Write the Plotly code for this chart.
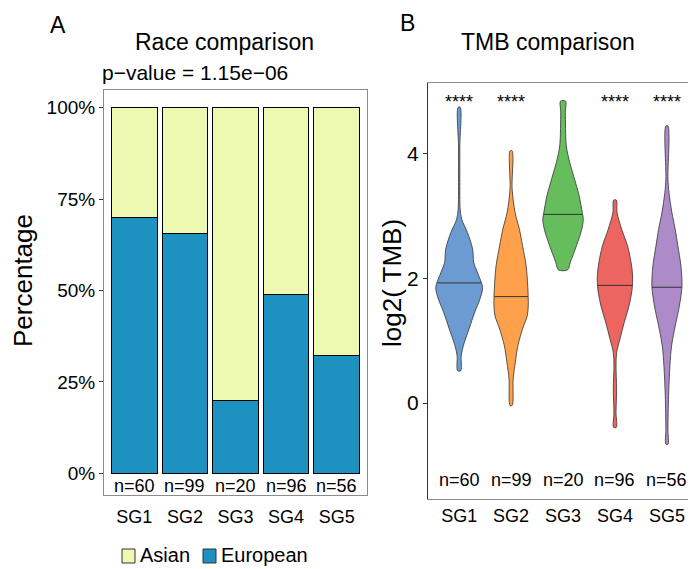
import numpy as np
import plotly.graph_objects as go

FONT = "Liberation Sans, Arial, sans-serif"

# ---------------- data ----------------
groups = ["SG1", "SG2", "SG3", "SG4", "SG5"]
group_n = [60, 99, 20, 96, 56]
european_pct = [70.0, 65.66, 20.0, 48.96, 32.14]
asian_pct = [30.0, 34.34, 80.0, 51.04, 67.86]
pct_ticks = [0, 25, 50, 75, 100]
pct_ticklabels = ["0%", "25%", "50%", "75%", "100%"]
race_pvalue = "p\u2212value = 1.15e\u221206"
legend_labels = ["Asian", "European"]

tmb_ticks = [0, 2, 4]
tmb_signif = ["****", "****", "", "****", "****"]
tmb_median = [1.93, 1.71, 3.03, 1.89, 1.86]

# violin density profiles: log2(TMB) level and half-width (category units)
sg1_tmb = [4.75, 4.13, 3.60, 3.11, 2.95, 2.74, 2.47, 2.26, 2.10, 1.86, 1.67, 1.46, 1.19, 0.92, 0.76, 0.52]
sg1_hw = [0.02, 0.013, 0.013, 0.02, 0.05, 0.16, 0.26, 0.28, 0.35, 0.45, 0.40, 0.30, 0.19, 0.08, 0.04, 0.03]
sg2_tmb = [4.05, 3.44, 3.06, 2.79, 2.53, 2.20, 1.88, 1.56, 1.40, 1.19, 0.92, 0.65, 0.385, -0.04]
sg2_hw = [0.02, 0.02, 0.077, 0.16, 0.22, 0.29, 0.32, 0.33, 0.31, 0.22, 0.13, 0.08, 0.04, 0.02]
sg3_tmb = [4.85, 4.67, 4.13, 3.86, 3.60, 3.33, 3.06, 2.95, 2.79, 2.53, 2.26, 2.14]
sg3_hw = [0.048, 0.045, 0.064, 0.13, 0.22, 0.31, 0.37, 0.39, 0.36, 0.26, 0.14, 0.09]
sg4_tmb = [3.26, 3.06, 2.79, 2.53, 2.26, 2.04, 1.83, 1.56, 1.30, 1.03, 0.81, 0.60, 0.22, -0.15, -0.39]
sg4_hw = [0.026, 0.04, 0.13, 0.24, 0.31, 0.34, 0.33, 0.27, 0.18, 0.096, 0.032, 0.02, 0.032, 0.02, 0.026]
sg5_tmb = [4.45, 3.60, 3.38, 3.06, 2.79, 2.53, 2.20, 1.88, 1.56, 1.24, 0.92, 0.60, 0.12, -0.42, -0.66]
sg5_hw = [0.02, 0.02, 0.04, 0.096, 0.16, 0.21, 0.27, 0.29, 0.24, 0.16, 0.09, 0.058, 0.032, 0.02, 0.02]

violin_tmb = [sg1_tmb, sg2_tmb, sg3_tmb, sg4_tmb, sg5_tmb]
violin_hw = [sg1_hw, sg2_hw, sg3_hw, sg4_hw, sg5_hw]

# ---------------- styles ----------------
col_asian = "#EDF8B1"
col_euro = "#1D91C0"
violin_colors = ["#6B9BD0", "#FFA04A", "#66BD5C", "#EC6561", "#AD8AC8"]
box_grey = "#8C8C8C"
dark = "#333333"

# page body has an 8px margin; figure is sized to fill the rest of the window
OFF = 8
W, H = 696 - OFF, 569 - OFF


def px(x):
    return (x - OFF) / W


def py(y):
    return 1 - (y - OFF) / H


fig = go.Figure()

# ---------------- panel A: stacked bars ----------------
fig.add_trace(go.Bar(x=groups, y=european_pct, name="European", marker=dict(color=col_euro, line=dict(color="black", width=1)),
                     width=0.9, xaxis="x", yaxis="y", showlegend=False))
fig.add_trace(go.Bar(x=groups, y=asian_pct, name="Asian", marker=dict(color=col_asian, line=dict(color="black", width=1)),
                     width=0.9, xaxis="x", yaxis="y", showlegend=False))

# ---------------- panel B: violins ----------------
for i, (lv, hw) in enumerate(zip(violin_tmb, violin_hw)):
    c = i + 1
    lv = np.array(lv, dtype=float)
    hw = np.array(hw, dtype=float)
    xs = np.concatenate([c + hw, (c - hw)[::-1], [c + hw[0]]])
    ys = np.concatenate([lv, lv[::-1], [lv[0]]])
    fig.add_trace(go.Scatter(x=xs, y=ys, mode="lines", fill="toself", fillcolor=violin_colors[i],
                             line=dict(color=dark, width=0.8, shape="spline", smoothing=0.9),
                             xaxis="x2", yaxis="y2", showlegend=False, hoverinfo="skip"))
    m = tmb_median[i]
    w = float(np.interp(m, lv[::-1], hw[::-1]))
    fig.add_trace(go.Scatter(x=[c - w, c + w], y=[m, m], mode="lines", line=dict(color=dark, width=1),
                             xaxis="x2", yaxis="y2", showlegend=False, hoverinfo="skip"))

ann = []
for i, g in enumerate(groups):
    ann.append(dict(x=g, y=-3.4, xref="x", yref="y", text=f"n={group_n[i]}", showarrow=False,
                    font=dict(size=18, color="black", family=FONT), yanchor="middle"))
    ann.append(dict(x=i + 1, y=-1.24, xref="x2", yref="y2", text=f"n={group_n[i]}", showarrow=False,
                    font=dict(size=18, color="black", family=FONT), yanchor="middle"))
    if tmb_signif[i]:
        ann.append(dict(x=i + 1, y=4.83, xref="x2", yref="y2", text=tmb_signif[i], showarrow=False,
                        font=dict(size=18, color="black", family=FONT), yanchor="middle"))

ann += [
    dict(x=px(58), y=py(25), xref="paper", yref="paper", text="A", showarrow=False,
         font=dict(size=23, color="black", family=FONT), xanchor="center", yanchor="middle"),
    dict(x=px(407), y=py(23), xref="paper", yref="paper", text="B", showarrow=False,
         font=dict(size=23, color="black", family=FONT), xanchor="center", yanchor="middle"),
    dict(x=px(224), y=py(42), xref="paper", yref="paper", text="Race comparison", showarrow=False,
         font=dict(size=23, color="black", family=FONT), xanchor="center", yanchor="middle"),
    dict(x=px(195), y=py(73), xref="paper", yref="paper", text=race_pvalue, showarrow=False,
         font=dict(size=21, color="black", family=FONT), xanchor="center", yanchor="middle"),
    dict(x=px(548), y=py(42), xref="paper", yref="paper", text="TMB comparison", showarrow=False,
         font=dict(size=23, color="black", family=FONT), xanchor="center", yanchor="middle"),
    # axis titles
    dict(x=px(23), y=py(281), xref="paper", yref="paper", text="Percentage", showarrow=False, textangle=-90,
         font=dict(size=26, color="black", family=FONT), xanchor="center", yanchor="middle"),
    dict(x=px(392), y=py(283), xref="paper", yref="paper", text="log2( TMB)", showarrow=False, textangle=-90,
         font=dict(size=26, color="black", family=FONT), xanchor="center", yanchor="middle"),
]

# legend (drawn as keys + labels below panel A)
shapes = []
legend_colors = [col_asian, col_euro]
legend_key_x = [122, 203]
for lab, colr, kx in zip(legend_labels, legend_colors, legend_key_x):
    shapes.append(dict(type="rect", xref="paper", yref="paper", x0=px(kx), x1=px(kx + 13),
                       y0=py(563), y1=py(549), fillcolor=colr, line=dict(color=dark, width=1)))
    ann.append(dict(x=px(kx + 16), y=py(555), xref="paper", yref="paper", text=lab, showarrow=False,
                    font=dict(size=20, color="black", family=FONT), xanchor="left", yanchor="middle"))

axis_font = dict(size=18, color="black", family=FONT)

fig.update_layout(
    width=W, height=H,
    margin=dict(l=0, r=0, t=0, b=0, autoexpand=False),
    paper_bgcolor="white", plot_bgcolor="white",
    font=dict(family=FONT, color="black"),
    barmode="stack", bargap=0.1,
    annotations=ann,
    shapes=shapes,
    showlegend=False,
    xaxis=dict(domain=[px(104), px(367)], range=[-0.6, 4.6], showline=True, mirror=True,
               linecolor=box_grey, linewidth=1, ticks="", tickfont=axis_font, showgrid=False,
               zeroline=False, anchor="y", ticklabelstandoff=5, automargin=False),
    yaxis=dict(domain=[py(495), py(90)], range=[-5.9, 104.8], showline=True, mirror=True,
               linecolor=box_grey, linewidth=1, ticks="outside", ticklen=4, tickcolor=dark,
               tickvals=pct_ticks, ticktext=pct_ticklabels, tickfont=dict(size=19, color="black", family=FONT),
               showgrid=False, zeroline=False, anchor="x", automargin=False),
    xaxis2=dict(domain=[px(428), 1.0], range=[0.4, 5.56], showline=True, mirror=True,
                linecolor=box_grey, linewidth=1, ticks="", tickvals=[1, 2, 3, 4, 5], ticktext=groups,
                tickfont=axis_font, showgrid=False, zeroline=False, anchor="y2", ticklabelstandoff=0,
                automargin=False),
    yaxis2=dict(domain=[py(499), py(83)], range=[-1.54, 5.14], showline=True, mirror=False,
                linecolor=dark, linewidth=1, ticks="outside", ticklen=4, tickcolor=dark,
                tickvals=tmb_ticks, tickfont=dict(size=21, color="black", family=FONT),
                showgrid=False, zeroline=False, anchor="x2", automargin=False),
)

fig.write_html("out.html")
